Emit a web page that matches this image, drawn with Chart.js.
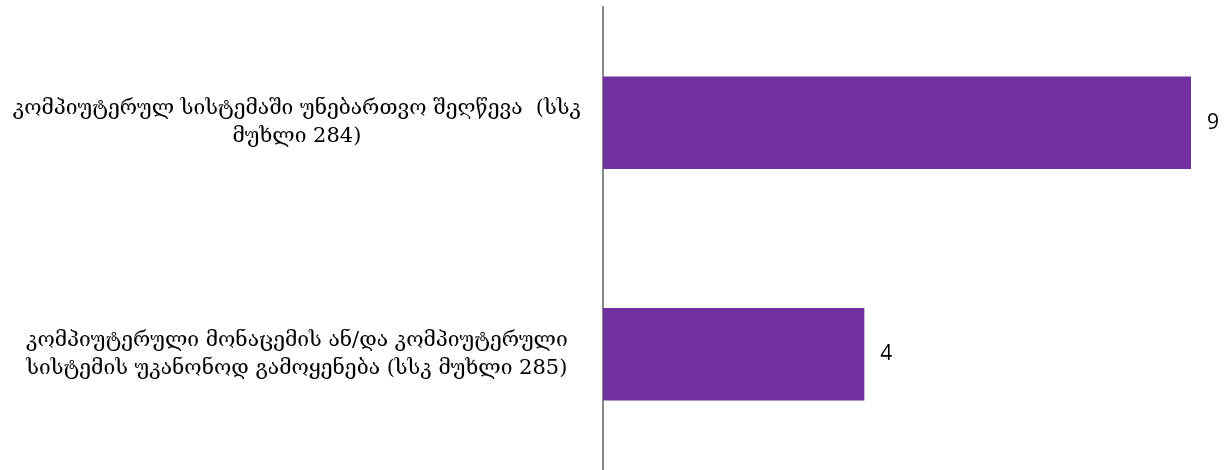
<!DOCTYPE html>
<html>
<head>
<meta charset="utf-8">
<style>
  html, body { margin: 0; padding: 0; background: #fff; }
  #wrap { width: 1230px; height: 470px; }
</style>
<script src="https://cdn.jsdelivr.net/npm/chart.js"></script>
</head>
<body>
<div id="wrap"><canvas id="chart"></canvas></div>
<script>
// categories (already split into lines as in the picture)
var categories = [
    ["კომპიუტერულ სისტემაში უნებართვო შეღწევა  (სსკ", "მუხლი 284)"],
    ["კომპიუტერული მონაცემის ან/და კომპიუტერული", "სისტემის უკანონოდ გამოყენება (სსკ მუხლი 285)"]
];
var counts = [9, 4];

// draw the number next to each bar
var valueLabels = {
    id: 'valueLabels',
    afterDatasetsDraw: function (chart) {
        var ctx = chart.ctx;
        var meta = chart.getDatasetMeta(0);
        ctx.save();
        ctx.font = '21px "Open Sans", "DejaVu Sans", sans-serif';
        ctx.fillStyle = '#000';
        ctx.textBaseline = 'middle';
        ctx.textAlign = 'left';
        meta.data.forEach(function (bar, i) {
            ctx.fillText(String(counts[i]), bar.x + 16, bar.y);
        });
        ctx.restore();
    }
};

new Chart(document.getElementById('chart').getContext('2d'), {
    type: 'bar',
    data: {
        labels: categories,
        datasets: [{
            data: counts,
            backgroundColor: '#7030A0',
            borderWidth: 0,
            barPercentage: 0.8,
            categoryPercentage: 0.5
        }]
    },
    options: {
        indexAxis: 'y',
        responsive: true,
        maintainAspectRatio: false,
        animation: false,
        layout: { padding: { top: 7, right: 39, bottom: 0, left: 0 } },
        plugins: {
            legend: { display: false },
            tooltip: { enabled: false }
        },
        scales: {
            x: {
                display: false,
                min: 0,
                max: 9
            },
            y: {
                afterFit: function (scale) {
                    scale.width = 603;
                    scale.paddingTop = 0;
                    scale.paddingBottom = 0;
                },
                grid: { display: false, drawTicks: false },
                border: { display: true, color: '#888888', width: 2 },
                ticks: {
                    crossAlign: 'center',
                    padding: 22,
                    color: '#000',
                    font: { family: '"DejaVu Serif", serif', size: 21, lineHeight: 1.35 }
                }
            }
        }
    },
    plugins: [valueLabels]
});
</script>
</body>
</html>
